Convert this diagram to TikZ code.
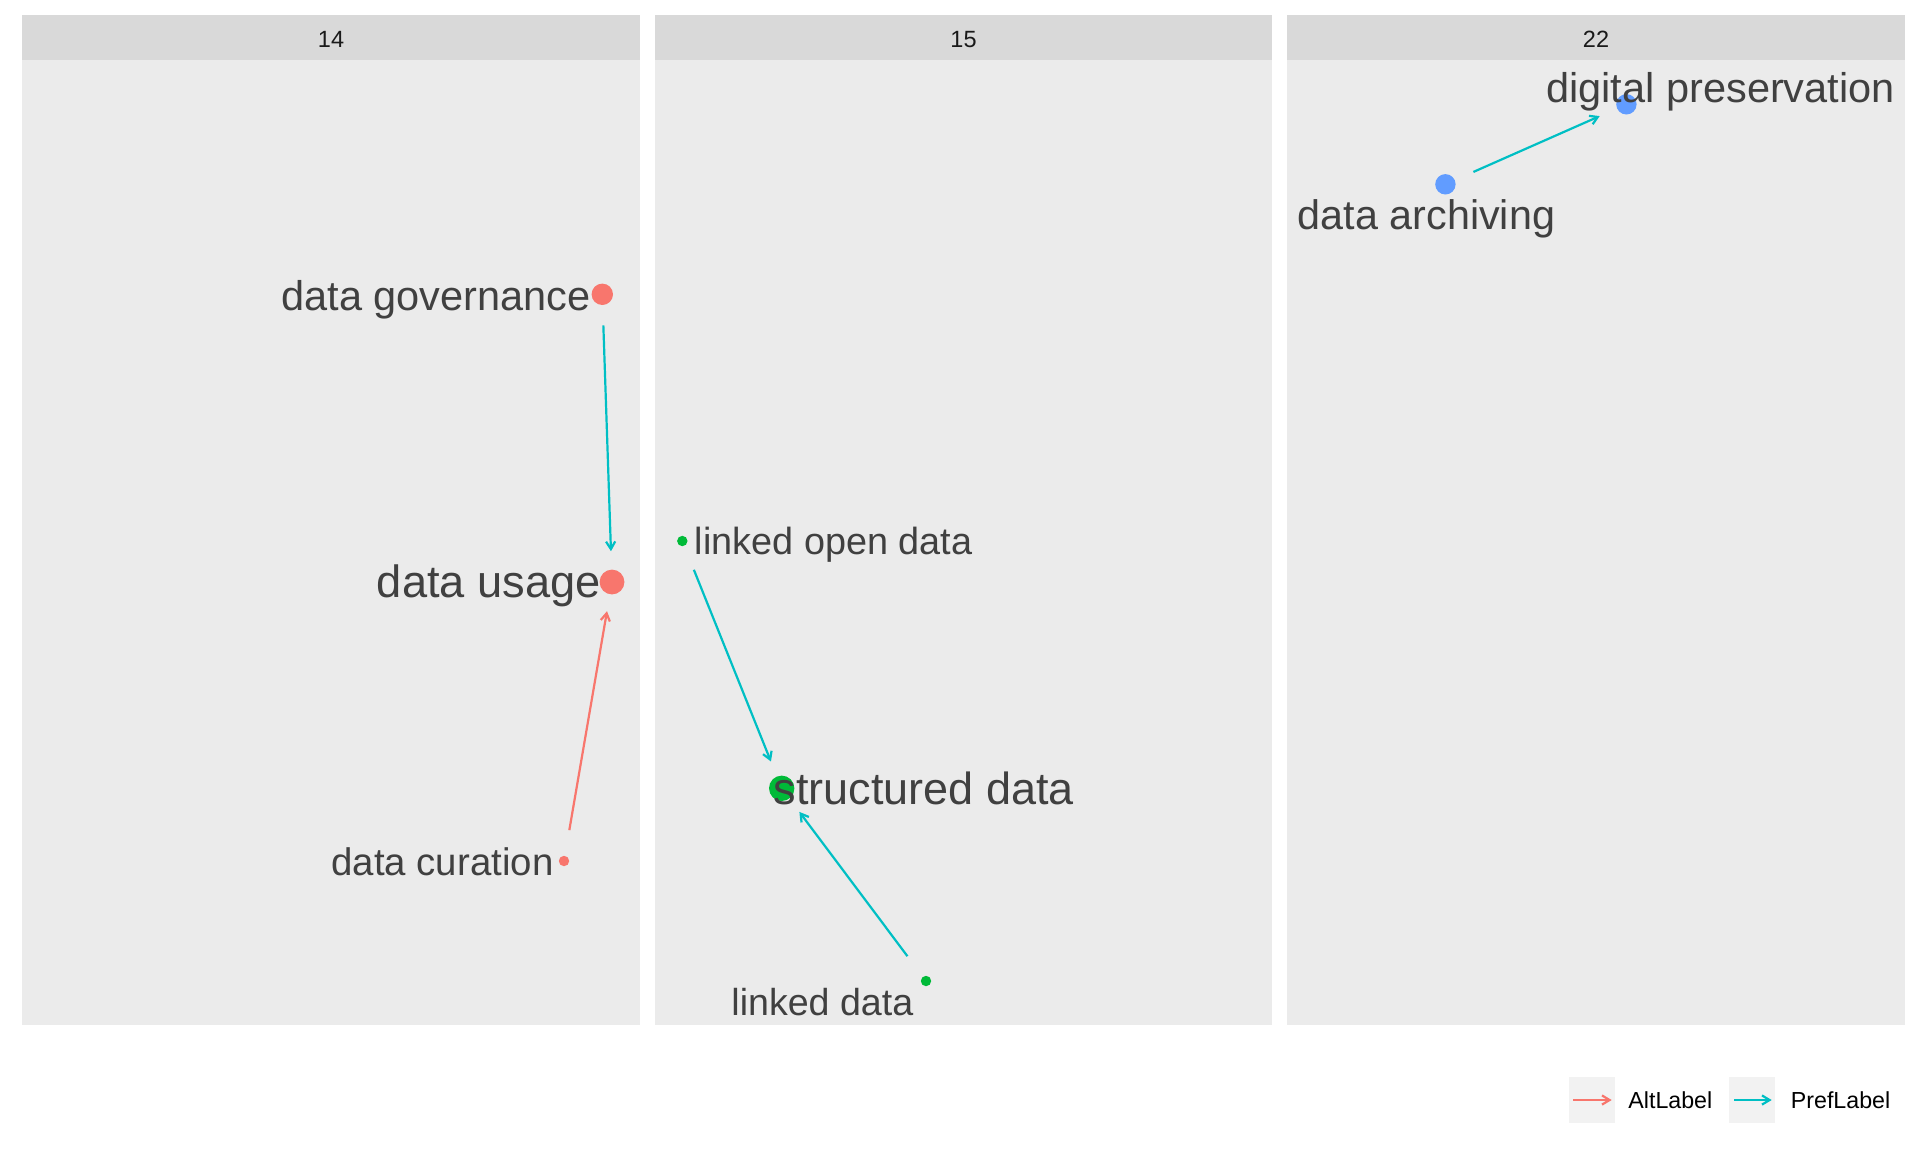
\documentclass[tikz,border=0pt]{standalone}
\usepackage{fontspec}
\setmainfont{Liberation Sans}
\usetikzlibrary{arrows.meta}
\definecolor{pred}{HTML}{F8766D}
\definecolor{pgreen}{HTML}{00BA38}
\definecolor{pblue}{HTML}{619CFF}
\definecolor{pcyan}{HTML}{00BFC4}
\definecolor{panelbg}{HTML}{EBEBEB}
\definecolor{stripbg}{HTML}{D9D9D9}
\definecolor{keybg}{HTML}{F2F2F2}
\definecolor{lblc}{HTML}{404040}
\definecolor{striptxt}{HTML}{1A1A1A}
\begin{document}
\begin{tikzpicture}[x=0.5pt,y=-0.5pt,
  dotnode/.style={circle,inner sep=0pt,minimum size=#1},
  lbltext/.style={text=lblc,inner sep=0pt,font=\fontsize{#1}{#1}\selectfont},
  edge/.style={line width=1.1pt,-{Straight Barb[length=3.8pt,width=4.6pt,line width=1.1pt]}},
  panel/.style={fill=panelbg},
  strip/.style={fill=stripbg},
  striplabel/.style={anchor=base,inner sep=0pt,text=striptxt,font=\fontsize{11.75}{11.75}\selectfont},
  legtext/.style={anchor=base west,inner sep=0pt,text=black,font=\fontsize{11.6}{11.6}\selectfont},
  keybox/.style={fill=keybg}]
\fill[white] (0,0) rectangle (1920,1152);
\useasboundingbox (0,0) rectangle (1920,1152);
% panels
\fill[panel] (22,60) rectangle (640,1025);
\fill[strip] (22,15) rectangle (640,60);
\fill[panel] (655,60) rectangle (1272,1025);
\fill[strip] (655,15) rectangle (1272,60);
\fill[panel] (1287,60) rectangle (1905,1025);
\fill[strip] (1287,15) rectangle (1905,60);
\node[striplabel] (s14) at (331,47) {14};
\node[striplabel] (s15) at (963.5,47) {15};
\node[striplabel] (s22) at (1596,47) {22};
% points
\node[dotnode=10.7pt,fill=pred] (gov) at (602.3,294.3) {};
\node[dotnode=12.4pt,fill=pred] (usage) at (612,582) {};
\node[dotnode=5.2pt,fill=pred] (cur) at (564,861) {};
\node[dotnode=5.2pt,fill=pgreen] (lod) at (682.3,541) {};
\node[dotnode=12.7pt,fill=pgreen] (sd) at (781.7,788.3) {};
\node[dotnode=5.2pt,fill=pgreen] (ld) at (926,981) {};
\node[dotnode=10.2pt,fill=pblue] (dp) at (1626.4,104.3) {};
\node[dotnode=10.2pt,fill=pblue] (da) at (1445.4,184.3) {};
% connectors
\draw[edge,pcyan,shorten <=10pt,shorten >=9pt] (gov) -- (usage);
\draw[edge,pred,shorten <=12.85pt,shorten >=8.4pt] (cur) -- (usage);
\draw[edge,pcyan,shorten <=12.7pt,shorten >=7.9pt] (lod) -- (sd);
\draw[edge,pcyan,shorten <=12.7pt,shorten >=8.2pt] (ld) -- (sd);
\draw[edge,pcyan,shorten <=10pt,shorten >=9.3pt] (da) -- (dp);
% labels
\node[lbltext=20.75,anchor=base west] (govl) at (281,310) {data governance};
\node[lbltext=22.6,anchor=base west] (usagel) at (376.5,597.5) {data usage};
\node[lbltext=19.2,anchor=base west] (curl) at (331,875) {data curation};
\node[lbltext=18.9,anchor=base west] (lodl) at (694.5,554) {linked open data};
\node[lbltext=22.5,anchor=base west] (sdl) at (773.5,804) {structured data};
\node[lbltext=18.8,anchor=base west] (ldl) at (731,1015) {linked data};
\node[lbltext=20.75,anchor=base west] (dpl) at (1546,102) {digital preservation};
\node[lbltext=20.65,anchor=base west] (dal) at (1297.5,229) {data archiving};
% legend
\fill[keybox] (1569.3,1076.7) rectangle (1615,1122.7);
\fill[keybox] (1729,1076.7) rectangle (1775,1122.7);
\coordinate (k1a) at (1573,1100);
\coordinate (k1b) at (1611.7,1100);
\coordinate (k2a) at (1734,1100);
\coordinate (k2b) at (1771.7,1100);
\draw[edge,pred] (k1a) -- (k1b);
\draw[edge,pcyan] (k2a) -- (k2b);
\node[legtext] (alt) at (1628,1108.3) {AltLabel};
\node[legtext] (pref) at (1790.5,1108.3) {PrefLabel};
\end{tikzpicture}
\end{document}
